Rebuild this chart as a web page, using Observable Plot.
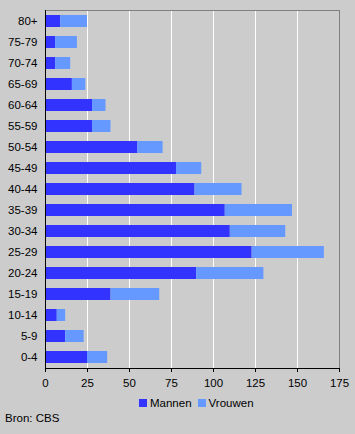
<!DOCTYPE html>
<html>
<head>
<meta charset="utf-8">
<script src="https://cdn.jsdelivr.net/npm/d3@7"></script>
<script src="https://cdn.jsdelivr.net/npm/@observablehq/plot@0.6"></script>
<style>
  html, body { margin: 0; padding: 0; background: #cccccc; }
  body { width: 355px; height: 434px; position: relative; overflow: hidden;
         font-family: "Liberation Sans", Arial, sans-serif; font-size: 11px; color: #000; }
  #chart { position: absolute; left: 0; top: 0; }
  #legend { position: absolute; left: 139px; top: 397px; display: flex; align-items: center; white-space: nowrap; font-size: 11.5px; }
  #legend .sw { display: inline-block; width: 8px; height: 8px; margin-right: 3px; }
  #legend .item { display: flex; align-items: center; margin-right: 6px; }
  #source { position: absolute; left: 5px; top: 412px; font-size: 11.5px; }
</style>
</head>
<body>
<div id="chart"></div>
<div id="legend"></div>
<div id="source">Bron: CBS</div>
<script>
const ages = ["0-4","5-9","10-14","15-19","20-24","25-29","30-34","35-39","40-44","45-49","50-54","55-59","60-64","65-69","70-74","75-79","80+"];
const mannen  = [25, 12, 7, 39, 90, 123, 110, 107, 89, 78, 55, 28, 28, 16, 6, 6, 9];
const vrouwen = [12, 11, 5, 29, 40, 43, 33, 40, 28, 15, 15, 11, 8, 8, 9, 13, 16];
const series = ["Mannen", "Vrouwen"];
const colors = ["#3333ff", "#6699ff"];
const xTicks = [0, 25, 50, 75, 100, 125, 150, 175];

const rows = [];
ages.forEach((a, i) => {
  rows.push({age: a, sex: series[0], value: mannen[i]});
  rows.push({age: a, sex: series[1], value: vrouwen[i]});
});

const chart = Plot.plot({
  width: 355,
  height: 392,
  marginLeft: 45,
  marginRight: 16,
  marginTop: 10,
  marginBottom: 24,
  style: {background: "#cccccc", fontFamily: "'Liberation Sans', Arial, sans-serif", fontSize: "11.5px", color: "#000"},
  x: {domain: [0, 175]},
  y: {domain: ages.slice().reverse(), paddingInner: 0.43, paddingOuter: 0.22},
  color: {domain: series, range: colors},
  marks: [
    Plot.ruleX(xTicks.slice(1, -1), {stroke: "white", strokeWidth: 1}),
    Plot.barX(rows, {x: "value", y: "age", fill: "sex"}),
    Plot.frame({anchor: "top", stroke: "#808080"}),
    Plot.frame({anchor: "right", stroke: "#808080"}),
    Plot.frame({anchor: "left", stroke: "#000"}),
    Plot.frame({anchor: "bottom", stroke: "#000"}),
    Plot.axisX({ticks: xTicks, tickSize: 4, tickPadding: 6, label: null, stroke: "#000"}),
    Plot.axisY({tickSize: 0, tickPadding: 8, label: null})
  ]
});
document.getElementById("chart").appendChild(chart);

const legend = document.getElementById("legend");
series.forEach((s, i) => {
  const item = document.createElement("span");
  item.className = "item";
  const sw = document.createElement("span");
  sw.className = "sw";
  sw.style.background = colors[i];
  item.appendChild(sw);
  item.appendChild(document.createTextNode(s));
  legend.appendChild(item);
});
</script>
</body>
</html>
